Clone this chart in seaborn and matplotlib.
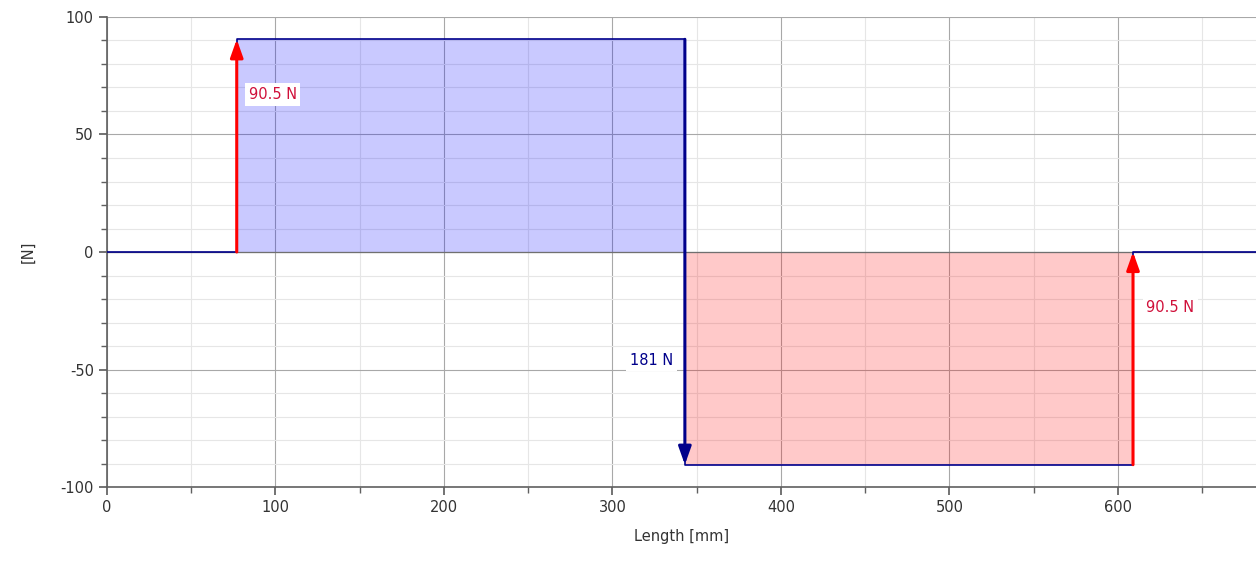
import numpy as np
import pandas as pd
import matplotlib.pyplot as plt
import seaborn as sns
from matplotlib.ticker import MultipleLocator

# shear force diagram data
positions = [0, 77, 343, 609, 682]
shear = [0, 90.5, -90.5, 0, 0]
support_x = [77, 343, 609]
reactions = [90.5, -181, 90.5]
reaction_labels = ["90.5 N", "181 N", "90.5 N"]

sns.set_theme(style="white")
plt.rcParams["font.family"] = ["DejaVu Sans"]
plt.rcParams["axes.unicode_minus"] = False

fig = plt.figure(figsize=(12.56, 5.61), dpi=100)
ax = fig.add_axes([0.0852, 0.1319, 0.9148, 0.8378])

df = pd.DataFrame({"x": positions, "V": shear})

# fills, one per segment
for i in range(len(positions) - 1):
    v = shear[i]
    if v == 0:
        continue
    c = "#0000ff" if v > 0 else "#ff0000"
    ax.fill_between([positions[i], positions[i + 1]], [v, v], 0,
                    color=c, alpha=0.21, lw=0, zorder=1)

sns.lineplot(data=df, x="x", y="V", drawstyle="steps-post", color="#00008b",
             lw=1.2, ax=ax, zorder=3)

# reaction arrows
colors = ["#ff0000", "#00008b", "#ff0000"]
for x, r, c in zip(support_x, reactions, colors):
    y0 = shear[positions.index(x) - 1]
    y1 = y0 + r
    ax.annotate("", xy=(x, y1), xytext=(x, y0),
                arrowprops=dict(arrowstyle="-|>,head_length=0.9,head_width=0.32",
                                color=c, lw=2.2, shrinkA=0, shrinkB=0), zorder=4)

bbox = dict(boxstyle="square,pad=0.25", fc="white", ec="none")
ax.text(84, 67, reaction_labels[0], color="#d0103a", fontsize=10.5,
        ha="left", va="center", bbox=bbox, zorder=5)
ax.text(336, -46, reaction_labels[1], color="#00008b", fontsize=10.5,
        ha="right", va="center", bbox=bbox, zorder=5)
ax.text(617, -23.5, reaction_labels[2], color="#d0103a", fontsize=10.5,
        ha="left", va="center", bbox=bbox, zorder=5)

ax.set_xlim(0, 682)
ax.set_ylim(-100, 100)
ax.xaxis.set_major_locator(MultipleLocator(100))
ax.xaxis.set_minor_locator(MultipleLocator(50))
ax.yaxis.set_major_locator(MultipleLocator(50))
ax.yaxis.set_minor_locator(MultipleLocator(10))
ax.grid(which="major", color="#a8a8a8", lw=0.8, zorder=0)
ax.grid(which="minor", color="#e6e6e6", lw=0.8, zorder=0)
ax.set_axisbelow(True)
ax.axhline(0, color="#707070", lw=0.9, zorder=2)

for s in ["top", "right"]:
    ax.spines[s].set_visible(False)
for s in ["left", "bottom"]:
    ax.spines[s].set_color("#606060")
    ax.spines[s].set_linewidth(1.2)

ax.tick_params(which="both", direction="out", color="#606060", labelsize=10.5,
               labelcolor="#333333", left=True, bottom=True)
ax.tick_params(which="major", length=6)
ax.tick_params(which="minor", length=4)

ax.set_xlabel("Length [mm]", fontsize=10.5, color="#333333", labelpad=10)
ax.set_ylabel("[N]", fontsize=10.5, color="#333333", labelpad=18)

fig.savefig("out.png", dpi=100)
